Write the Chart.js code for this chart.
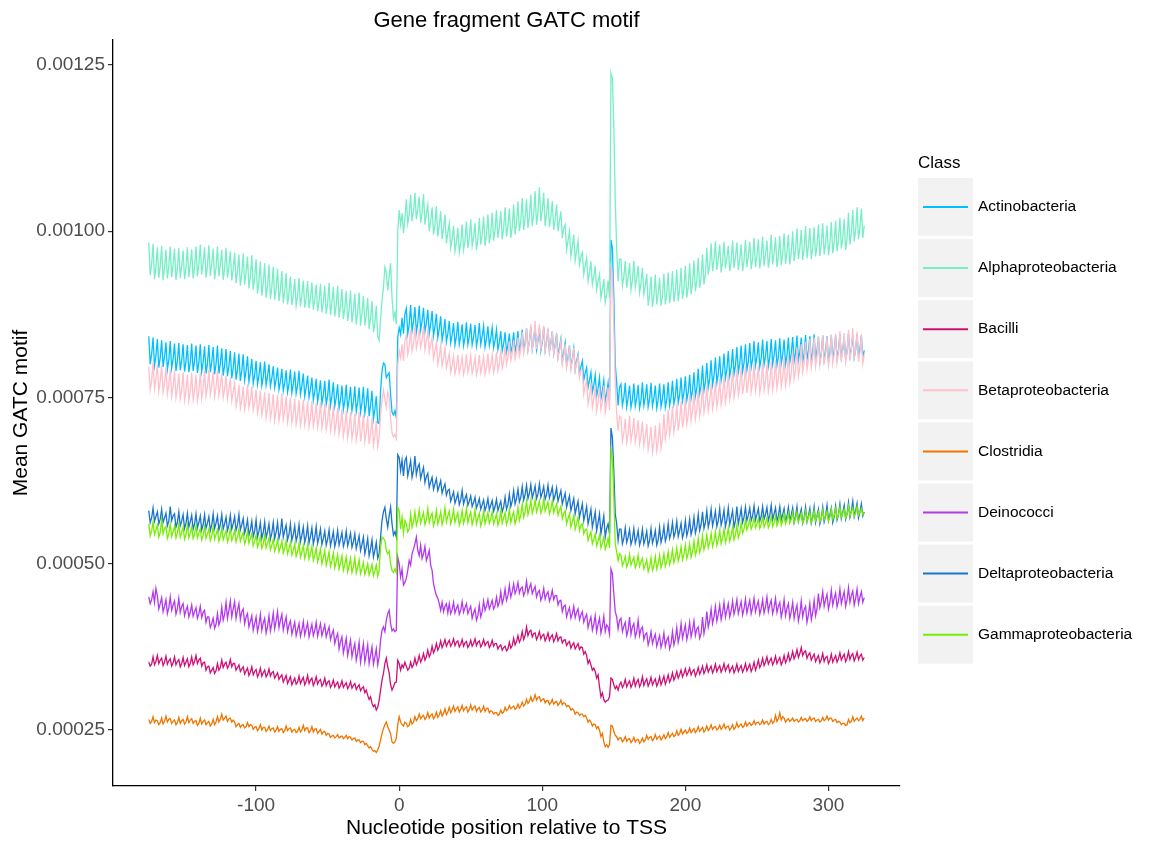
<!DOCTYPE html>
<html>
<head>
<meta charset="utf-8">
<title>Gene fragment GATC motif</title>
<script src="https://cdn.jsdelivr.net/npm/chart.js@4.4.1/dist/chart.umd.min.js"></script>
<style>
  html, body { margin: 0; padding: 0; background: #fff; }
  #wrap { width: 1150px; height: 842px; }
</style>
</head>
<body>
<div id="wrap"><canvas id="chart" width="1150" height="842"></canvas></div>
<script>
// positions run from -175 to 325, one value per nucleotide
const START_POS = -175;
const END_POS = 325;
const X_TICKS = [-100, 0, 100, 200, 300];
const Y_TICKS = [0.00025, 0.0005, 0.00075, 0.001, 0.00125];
const Y_MIN = 0.0001658;
const Y_MAX = 0.0012876;
const VALUE_UNIT = 1e-6; // series below are stored in millionths

const CLASSES = ['Actinobacteria', 'Alphaproteobacteria', 'Bacilli', 'Betaproteobacteria',
                 'Clostridia', 'Deinococci', 'Deltaproteobacteria', 'Gammaproteobacteria'];
const CLASS_COLOURS = ['#00BFFF', '#76EEC6', '#CD1076', '#FFC0CB',
                       '#EE7600', '#B23AEE', '#1874CD', '#76EE00'];

const ACTINO = [
  842,800,815, 840,798,812, 838,795,810, 836,796,811, 833,792,806, 835,794,808, 831,790,805, 832,791,806, 830,789,804, 829,788,803,
  831,790,805, 828,787,802, 830,789,803, 827,786,801, 829,788,803, 826,785,800, 828,786,801, 824,783,798, 823,782,797, 820,779,794,
  818,777,792, 816,775,790, 815,776,790, 812,774,788, 808,771,784, 805,770,783, 803,768,781, 804,769,782, 800,767,779, 797,765,777,
  795,762,774, 793,760,772, 791,758,770, 792,757,770, 789,756,768, 790,755,768, 786,752,765, 783,750,762, 780,746,759, 778,744,757,
  776,741,754, 775,740,752, 777,738,752, 773,737,750, 770,734,747, 768,732,745, 769,733,746, 766,730,743, 767,729,743, 765,728,742,
  766,726,740, 764,722,738, 760,718,732, 752,712,711, 760,790,802, 800,780,784, 787,755,728, 724,730,720, 841,855,845, 870,846,875,
  884,846,860, 889,850,864, 886,848,862, 888,851,865, 885,849,862, 882,846,860, 880,843,857, 876,840,853, 872,836,849, 868,834,846,
  865,832,844, 862,829,842, 864,830,843, 860,828,840, 863,830,842, 861,829,841, 859,827,839, 862,830,842, 858,826,838, 857,828,839,
  855,825,836, 852,822,833, 850,820,831, 848,818,829, 846,817,828, 848,819,830, 850,820,831, 852,821,833, 854,822,834, 856,823,836,
  857,822,835, 855,820,833, 856,821,834, 853,819,832, 850,816,829, 846,812,825, 838,804,817, 832,798,811, 828,796,808, 824,792,805,
  815,784,796, 805,776,787, 795,765,776, 788,758,769, 784,752,764, 780,748,760, 776,745,756, 772,745,987, 975,900,800, 772,738,765,
  770,738,750, 772,736,749, 768,735,747, 771,737,749, 769,734,746, 773,738,750, 770,736,748, 772,737,749, 768,734,746, 771,736,748,
  770,735,747, 773,738,750, 775,740,752, 778,742,754, 780,745,757, 782,746,758, 784,748,760, 788,752,764, 793,756,768, 798,760,773,
  802,765,778, 806,769,782, 810,772,785, 812,775,788, 816,779,792, 820,782,795, 823,785,798, 826,788,801, 828,789,802, 830,791,804,
  832,795,808, 835,798,811, 833,796,809, 837,799,812, 835,797,810, 838,800,813, 836,798,811, 839,801,814, 837,800,813, 840,803,816,
  841,804,817, 843,806,819, 840,803,816, 844,807,820, 842,805,818, 845,807,821, 841,804,817, 843,806,819, 842,805,818, 844,808,821,
  843,809,821, 845,810,823, 842,808,820, 846,812,824, 844,810,822, 845,811,823, 843,809,821
];

const ALPHA = [
  983,934,950, 981,928,946, 976,930,948, 978,926,944, 972,929,947, 977,931,949, 974,927,944, 975,930,948, 971,928,945, 976,931,950,
  973,929,946, 977,932,950, 980,935,953, 976,930,948, 979,933,951, 974,928,945, 977,932,949, 972,927,944, 975,930,947, 970,926,943,
  968,922,940, 965,918,936, 967,920,938, 962,914,932, 964,912,930, 958,906,925, 955,903,922, 952,900,918, 950,898,916, 947,897,914,
  944,895,912, 940,892,910, 937,890,907, 932,889,904, 928,888,902, 930,887,903, 926,885,900, 925,884,899, 923,882,897, 920,880,895,
  921,878,894, 918,876,892, 922,874,893, 916,872,889, 918,870,888, 913,868,885, 910,865,882, 911,863,881, 906,860,878, 908,858,877,
  903,858,874, 900,853,870, 895,848,862, 888,842,836, 868,896,915, 946,938,911, 932,952,900, 869,878,860, 1000,1032,1010, 1027,997,1020,
  1048,1012,1026, 1055,1015,1030, 1058,1018,1033, 1052,1013,1028, 1056,1010,1027, 1040,1000,1015, 1036,995,1010, 1038,992,1008, 1030,988,1004, 1025,982,998,
  1012,975,988, 1008,970,984, 1005,968,982, 1010,972,986, 1015,975,990, 1018,978,992, 1012,972,988, 1020,980,995, 1022,978,994, 1025,982,998,
  1028,986,1002, 1032,990,1006, 1030,988,1004, 1036,992,1008, 1034,990,1006, 1040,995,1012, 1045,1000,1016, 1050,1002,1020, 1048,1005,1022, 1055,1008,1025,
  1060,1010,1028, 1066,1015,1032, 1058,1008,1026, 1050,1006,1022, 1045,1002,1018, 1040,1000,1015, 1030,990,1005, 1010,972,986, 1000,962,976, 995,956,970,
  985,950,962, 968,935,948, 960,925,938, 955,920,932, 948,912,925, 935,900,912, 928,893,905, 926,900,1238, 1230,1156,1047, 975,925,958,
  958,918,932, 955,915,930, 952,912,926, 956,916,930, 948,908,922, 945,905,918, 936,888,905, 932,886,902, 935,890,906, 930,888,903,
  936,890,907, 938,892,908, 940,894,910, 942,895,912, 945,898,915, 948,900,917, 952,905,922, 956,910,926, 960,915,930, 965,920,935,
  975,935,950, 982,940,956, 985,942,958, 980,938,954, 984,944,960, 978,940,955, 986,945,961, 983,942,958, 980,940,956, 987,946,962,
  984,943,959, 990,946,963, 988,944,961, 992,948,965, 986,945,962, 995,950,967, 991,946,963, 993,949,966, 997,951,968, 995,950,967,
  1000,955,972, 1004,958,975, 1002,957,973, 1008,960,978, 1005,958,975, 1006,962,979, 1010,963,980, 1012,965,982, 1009,964,981, 1014,967,984,
  1016,970,987, 1020,974,990, 1018,972,989, 1028,980,998, 1032,985,1002, 1036,988,1006, 1034,990,1008
];

const BACILLI = [
  352,346,349, 360,348,353, 362,350,355, 358,347,352, 361,349,354, 357,346,351, 360,348,353, 356,345,350, 359,347,352, 357,345,350,
  360,348,353, 362,350,355, 358,346,351, 352,340,345, 346,336,340, 344,335,339, 350,340,344, 355,344,349, 352,343,347, 356,345,350,
  350,340,344, 348,338,342, 345,334,339, 343,332,337, 345,333,338, 341,330,335, 343,331,336, 340,330,334, 342,331,336, 338,328,332,
  336,326,330, 333,322,327, 332,320,325, 330,318,323, 328,319,322, 331,320,325, 329,318,323, 332,320,325, 328,317,322, 330,319,324,
  326,316,320, 328,317,322, 324,314,318, 325,315,319, 322,313,317, 324,314,318, 321,312,316, 323,313,317, 320,311,315, 318,309,313,
  315,306,310, 302,296,300, 290,285,288, 280,284,295, 310,325,335, 350,358,345, 336,318,310, 315,321,322, 355,350,340, 348,344,352,
  346,340,343, 352,344,348, 358,348,353, 362,352,357, 365,355,360, 370,360,365, 376,366,371, 380,370,375, 384,374,379, 386,376,381,
  385,376,380, 387,377,382, 384,375,379, 386,376,381, 383,374,378, 385,376,380, 387,377,382, 384,375,379, 386,377,381, 383,374,378,
  385,376,380, 380,372,376, 378,370,374, 376,369,372, 382,373,377, 388,378,383, 392,382,387, 398,386,392, 405,392,398, 400,390,395,
  396,386,391, 398,387,392, 394,384,389, 396,385,390, 393,383,388, 395,384,389, 390,381,385, 386,377,381, 383,373,378, 381,372,376,
  380,371,375, 374,364,368, 362,350,355, 348,340,343, 338,328,333, 315,300,306, 296,292,294, 295,300,328, 326,318,312, 316,310,318,
  322,314,318, 326,315,320, 324,314,319, 328,316,322, 326,315,320, 330,317,323, 327,316,321, 329,318,323, 327,316,321, 330,318,324,
  331,319,325, 333,322,327, 336,325,330, 338,328,333, 340,330,335, 342,332,337, 343,333,338, 341,331,336, 344,334,339, 346,335,340,
  348,337,342, 346,336,341, 349,338,343, 347,337,342, 350,339,344, 348,337,342, 346,336,341, 349,338,343, 347,337,342, 350,339,344,
  349,338,343, 352,340,346, 355,344,349, 358,347,352, 360,349,354, 358,348,353, 361,350,355, 359,348,353, 362,351,356, 365,354,359,
  368,357,362, 371,359,365, 374,362,367, 369,358,363, 366,355,360, 364,353,358, 362,351,356, 365,353,359, 361,350,355, 364,352,357,
  362,352,357, 366,355,360, 364,353,358, 368,356,362, 365,354,359, 367,356,361, 364,355,359
];

const BETA = [
  796,762,775, 803,764,778, 800,760,774, 798,758,772, 795,755,769, 792,752,766, 790,750,764, 786,748,761, 788,746,760, 785,745,759,
  787,747,761, 784,745,759, 788,749,763, 790,752,766, 792,754,768, 789,751,765, 791,753,767, 786,750,763, 783,748,761, 780,745,758,
  772,737,749, 769,734,746, 767,732,744, 770,735,747, 766,731,743, 762,727,739, 760,724,737, 758,720,734, 757,718,732, 755,716,730,
  754,715,729, 756,717,731, 752,713,727, 750,712,725, 748,710,723, 746,708,721, 747,709,722, 744,706,719, 745,707,720, 742,705,718,
  743,704,718, 740,702,715, 741,700,714, 738,698,712, 735,695,709, 733,692,706, 730,690,704, 728,688,702, 726,686,700, 728,684,699,
  724,684,698, 722,680,695, 720,678,692, 715,676,690, 725,745,761, 748,735,758, 752,718,697, 691,694,688, 800,821,810, 830,805,835,
  845,815,826, 852,820,831, 856,824,835, 854,826,836, 858,822,835, 850,818,830, 840,808,820, 832,800,812, 828,798,809, 825,795,806,
  816,788,798, 812,786,796, 814,787,797, 811,785,795, 815,788,798, 813,786,796, 810,784,794, 814,787,797, 812,785,795, 816,789,799,
  815,788,798, 818,790,800, 822,794,804, 828,800,810, 834,806,816, 836,808,818, 840,812,822, 848,816,828, 855,820,833, 860,822,836,
  865,823,838, 860,822,836, 858,820,834, 855,818,831, 850,815,827, 842,808,820, 835,800,813, 830,795,807, 828,792,805, 825,790,802,
  812,780,791, 790,755,768, 776,740,752, 772,735,748, 768,730,744, 765,732,743, 768,728,742, 765,731,946, 935,860,770, 725,700,722,
  720,684,697, 718,682,695, 722,685,698, 719,683,696, 716,680,693, 714,678,691, 710,672,686, 706,668,682, 708,670,684, 712,674,688,
  725,688,701, 732,694,708, 737,698,712, 740,700,715, 745,705,720, 750,710,724, 754,715,729, 758,718,732, 762,722,736, 766,728,741,
  768,730,744, 771,733,747, 774,736,750, 778,740,754, 782,743,757, 786,747,761, 790,750,764, 793,753,767, 796,755,770, 798,757,772,
  799,758,772, 801,760,774, 798,757,771, 802,761,775, 800,759,773, 804,762,776, 806,764,778, 808,766,780, 810,768,782, 814,772,786,
  820,778,792, 825,782,796, 830,788,802, 834,792,806, 838,795,809, 840,797,811, 842,799,813, 844,800,815, 841,798,812, 845,801,815,
  846,802,816, 850,805,820, 847,803,817, 852,806,821, 855,808,823, 849,804,818, 845,801,815
];

const CLOSTRIDIA = [
  266,260,263, 270,261,265, 264,258,261, 268,259,263, 271,262,266, 267,260,263, 265,258,261, 269,260,264, 266,259,262, 270,261,265,
  267,260,263, 264,257,260, 268,259,263, 265,258,261, 263,256,259, 266,258,262, 270,262,266, 274,265,268, 271,263,267, 268,262,265,
  262,255,258, 260,254,257, 258,253,255, 261,255,258, 257,251,254, 255,249,252, 258,250,254, 254,248,251, 256,249,252, 253,247,250,
  255,248,251, 252,246,249, 256,249,252, 253,247,250, 251,246,248, 254,247,250, 257,249,253, 253,246,249, 255,247,251, 252,245,248,
  251,244,247, 248,242,245, 244,239,241, 242,238,240, 243,238,240, 241,237,239, 242,237,240, 239,235,237, 238,233,235, 235,231,233,
  233,228,230, 226,223,225, 221,218,219, 216,220,226, 235,245,252, 258,262,255, 250,244,232, 230,232,238, 258,270,262, 258,256,262,
  260,255,257, 266,259,262, 270,264,267, 274,267,270, 272,266,269, 276,268,272, 274,267,270, 277,269,273, 279,271,275, 282,273,277,
  284,276,280, 286,278,282, 285,277,281, 287,279,283, 285,277,281, 288,280,284, 286,278,282, 284,277,280, 286,278,282, 283,276,279,
  278,274,276, 276,272,274, 280,275,277, 284,279,281, 287,282,284, 286,281,283, 289,283,286, 292,286,289, 296,290,293, 300,293,296,
  303,295,299, 300,293,296, 297,291,294, 294,288,291, 296,289,292, 293,287,290, 295,288,291, 290,285,287, 285,280,282, 280,274,277,
  276,272,274, 274,270,272, 268,262,265, 262,256,259, 258,252,255, 250,240,245, 232,225,228, 224,228,257, 256,248,242, 240,235,238,
  238,232,235, 240,233,236, 237,231,234, 239,232,235, 236,230,233, 238,232,235, 242,236,239, 240,234,237, 243,236,239, 241,235,238,
  243,237,240, 246,239,242, 245,240,242, 249,242,245, 251,244,247, 250,245,247, 253,246,249, 252,246,249, 255,248,251, 254,247,250,
  256,249,252, 258,251,254, 255,250,252, 257,251,254, 259,252,255, 256,250,253, 258,251,254, 261,254,257, 259,254,256, 262,256,259,
  261,257,259, 264,258,261, 262,258,260, 265,259,262, 263,258,260, 266,260,263, 272,263,267, 276,265,270, 268,262,265, 267,263,265,
  268,263,265, 266,262,264, 269,264,266, 267,263,265, 270,264,267, 268,263,265, 266,262,264, 269,264,266, 271,265,268, 268,263,265,
  266,261,263, 262,258,260, 260,257,258, 266,261,263, 270,263,266, 268,264,266, 271,264,268
];

const DEINO = [
  450,440,446, 458,442,463, 452,432,440, 449,428,436, 446,425,434, 450,430,438, 444,424,432, 448,427,436, 440,422,430, 436,420,427,
  438,421,428, 434,418,425, 436,419,427, 430,412,420, 420,404,410, 418,403,409, 425,408,415, 435,415,424, 442,418,430, 444,420,432,
  443,418,430, 440,416,428, 432,410,420, 425,405,413, 422,400,410, 420,398,408, 424,400,411, 418,396,406, 422,399,410, 426,402,414,
  428,404,415, 424,400,411, 420,398,408, 414,394,403, 412,392,401, 410,391,400, 413,393,402, 411,390,400, 409,392,400, 412,391,401,
  410,392,400, 408,390,398, 405,386,394, 400,380,389, 395,372,383, 390,366,377, 388,362,374, 385,360,371, 380,355,366, 382,352,366,
  380,352,364, 378,350,362, 375,349,360, 372,348,360, 385,400,405, 398,415,425, 430,410,399, 402,398,400, 510,500,480, 492,468,472,
  478,490,505, 498,515,522, 530,540,520, 512,528,508, 515,526,505, 512,520,498, 490,470,460, 452,448,440, 430,442,428, 436,440,426,
  440,425,431, 442,426,433, 438,424,430, 443,427,434, 440,425,431, 436,418,426, 432,415,422, 438,420,428, 444,430,436, 446,432,438,
  445,432,437, 450,436,442, 458,440,448, 462,445,452, 468,450,458, 470,455,461, 472,456,463, 465,452,458, 474,456,464, 470,455,461,
  466,450,457, 460,445,451, 463,447,454, 458,444,450, 460,446,452, 452,438,444, 445,428,436, 438,420,428, 434,418,425, 436,419,427,
  432,416,423, 428,412,419, 424,404,413, 420,400,409, 422,398,409, 418,396,406, 421,398,408, 405,394,492, 485,455,428, 420,402,415,
  418,398,406, 412,392,400, 420,394,405, 410,390,398, 415,392,402, 405,386,394, 396,378,386, 398,380,388, 394,376,384, 392,374,382,
  396,376,385, 390,372,380, 398,378,387, 404,382,392, 410,388,398, 408,386,396, 412,390,400, 414,392,402, 405,388,395, 420,395,406,
  428,405,415, 432,410,420, 436,414,424, 438,416,426, 442,420,430, 440,420,429, 444,424,433, 446,425,434, 443,423,432, 447,426,436,
  445,425,434, 448,428,437, 444,424,433, 446,426,435, 450,428,438, 445,425,434, 448,427,436, 442,420,430, 446,422,433, 440,418,428,
  442,418,429, 438,414,425, 444,420,431, 436,412,423, 440,416,427, 445,422,432, 455,434,443, 458,436,446, 454,432,442, 460,438,448,
  456,435,444, 462,440,450, 458,436,446, 464,442,452, 459,438,448, 462,440,450, 458,442,449
];

const DELTA = [
  580,562,569, 584,564,571, 578,560,567, 582,562,569, 576,557,564, 586,565,572, 575,555,562, 578,557,564, 574,553,561, 576,555,563,
  573,552,560, 575,554,562, 572,551,559, 574,553,561, 571,550,558, 575,553,561, 572,551,559, 574,552,560, 570,550,558, 573,552,560,
  571,550,558, 574,551,559, 568,546,554, 566,543,551, 564,541,549, 566,540,549, 562,538,547, 563,539,548, 560,537,546, 562,538,547,
  562,538,547, 568,540,550, 558,536,544, 560,535,544, 557,534,543, 559,533,543, 555,532,541, 557,531,541, 554,530,540, 556,531,540,
  552,529,538, 549,528,537, 551,527,537, 548,526,535, 550,528,537, 547,526,534, 549,527,536, 546,525,533, 545,523,532, 542,520,529,
  540,515,525, 538,512,522, 536,510,520, 532,508,515, 540,565,578, 585,568,555, 572,585,560, 543,548,540, 664,660,640, 656,632,655,
  660,632,643, 655,630,640, 662,634,645, 650,628,637, 645,622,631, 636,615,623, 630,612,620, 628,610,617, 625,606,614, 620,603,610,
  612,594,601, 608,591,598, 606,589,596, 610,590,598, 604,588,594, 602,586,592, 600,584,590, 598,582,589, 596,580,587, 598,581,588,
  595,579,586, 597,580,587, 594,578,585, 600,582,589, 605,586,594, 610,590,598, 612,593,600, 616,596,604, 618,598,606, 619,599,607,
  617,598,605, 620,600,607, 616,597,604, 618,599,606, 615,596,603, 614,594,602, 610,590,598, 606,585,594, 602,580,589, 598,575,585,
  594,570,580, 590,565,575, 586,560,570, 582,555,566, 578,550,562, 575,545,558, 572,540,553, 560,545,704, 690,640,575, 560,535,552,
  552,530,538, 554,532,540, 551,529,537, 553,531,539, 550,528,536, 552,530,538, 549,527,535, 553,531,539, 550,528,536, 555,532,541,
  556,534,542, 560,538,546, 562,540,548, 564,541,550, 561,539,547, 565,542,551, 567,544,553, 570,546,555, 574,550,559, 578,553,562,
  580,555,565, 582,557,567, 579,556,565, 583,558,568, 581,556,566, 584,559,569, 580,555,565, 586,560,570, 583,562,570, 585,565,573,
  584,565,572, 587,566,574, 583,564,571, 586,567,574, 585,565,573, 588,566,575, 584,564,572, 586,566,574, 583,563,571, 585,565,573,
  584,562,571, 586,564,573, 582,561,569, 585,563,572, 583,561,570, 586,562,572, 582,560,569, 585,563,572, 588,565,574, 584,562,571,
  587,566,574, 590,568,577, 588,567,575, 592,570,579, 594,571,580, 591,569,578, 590,572,578
];

const GAMMA = [
  560,542,549, 563,544,551, 558,540,547, 566,545,553, 556,538,545, 560,541,548, 557,539,546, 559,540,547, 555,537,544, 558,539,546,
  555,538,544, 557,539,546, 553,536,543, 556,538,545, 552,535,542, 555,537,544, 551,534,541, 554,536,543, 550,533,540, 553,535,542,
  550,533,540, 552,534,541, 547,530,537, 549,531,538, 545,527,534, 543,525,532, 541,523,530, 543,524,531, 539,521,528, 537,519,526,
  536,518,525, 534,516,523, 535,515,523, 532,513,520, 530,511,518, 531,510,518, 528,508,516, 529,507,515, 526,505,513, 524,503,511,
  522,500,509, 520,498,507, 518,496,505, 516,494,503, 514,492,501, 512,490,499, 510,488,497, 508,487,495, 509,486,495, 506,485,493,
  502,484,491, 500,483,490, 499,482,489, 498,481,490, 525,540,538, 535,520,515, 519,500,490, 487,492,486, 585,580,552, 570,546,565,
  560,548,553, 575,555,563, 578,558,566, 581,561,569, 577,559,566, 583,562,571, 576,557,565, 580,560,568, 578,559,567, 584,563,572,
  579,560,568, 582,562,570, 577,558,566, 580,561,569, 583,562,571, 578,559,567, 581,560,569, 576,557,565, 579,560,568, 577,561,567,
  578,560,567, 575,558,565, 580,561,569, 577,559,566, 582,562,571, 578,560,568, 585,565,573, 590,570,578, 594,574,582, 595,576,584,
  596,578,585, 594,576,583, 597,579,586, 593,575,582, 595,577,584, 590,573,580, 586,568,576, 580,560,568, 575,555,563, 572,552,560,
  570,550,558, 560,545,551, 552,535,542, 548,530,537, 545,527,534, 543,524,531, 540,522,529, 538,524,671, 660,600,530, 518,505,515,
  513,497,503, 511,495,501, 514,498,504, 510,494,500, 513,496,503, 508,492,498, 506,488,495, 509,490,497, 511,492,500, 513,494,502,
  515,496,504, 518,499,507, 521,502,510, 524,504,512, 526,506,514, 528,508,516, 530,510,518, 534,513,521, 538,517,525, 542,521,529,
  544,524,532, 546,526,534, 548,528,536, 550,530,538, 552,532,540, 554,534,542, 555,536,544, 558,539,546, 562,546,552, 566,551,557,
  567,552,558, 569,554,560, 568,553,559, 570,555,561, 569,554,560, 571,556,562, 572,557,563, 574,558,565, 575,560,566, 576,561,567,
  577,562,568, 578,563,569, 576,561,567, 579,564,570, 577,562,568, 580,565,571, 578,563,569, 581,566,572, 579,564,570, 582,567,573,
  583,568,574, 585,570,576, 582,569,574, 587,572,578, 584,571,576, 586,573,578, 583,574,577
];

const SERIES = [ACTINO, ALPHA, BACILLI, BETA, CLOSTRIDIA, DEINO, DELTA, GAMMA];

const positions = [];
for (let p = START_POS; p <= END_POS; p++) positions.push(p);

SERIES.forEach((s, i) => {
    if (s.length !== positions.length) console.warn(CLASSES[i], 'has', s.length, 'values');
});

// ggplot-style legend on the right, drawn after the chart
const classLegend = {
    id: 'classLegend',
    afterDraw(chart) {
        const ctx = chart.ctx;
        const left = chart.chartArea.right + 18;
        const keyW = 55, keyH = 58, step = 61.1, top = 178;
        ctx.save();
        ctx.textBaseline = 'middle';
        ctx.textAlign = 'left';
        ctx.fillStyle = '#000';
        ctx.font = "17px 'Liberation Sans', Arial, sans-serif";
        ctx.fillText('Class', left, 163);
        ctx.font = "15.5px 'Liberation Sans', Arial, sans-serif";
        chart.data.datasets.forEach((ds, i) => {
            const y = top + i * step;
            ctx.fillStyle = '#f2f2f2';
            ctx.fillRect(left, y, keyW, keyH);
            ctx.strokeStyle = ds.borderColor;
            ctx.lineWidth = 2;
            ctx.beginPath();
            ctx.moveTo(left + 5, y + keyH / 2);
            ctx.lineTo(left + keyW - 5, y + keyH / 2);
            ctx.stroke();
            ctx.fillStyle = '#000';
            ctx.fillText(ds.label, left + keyW + 5, y + keyH / 2);
        });
        ctx.restore();
    }
};

Chart.defaults.font.family = "'Liberation Sans', Arial, Helvetica, sans-serif";

const datasets = CLASSES.map((name, i) => ({
    label: name,
    data: SERIES[i].map((v, j) => ({ x: positions[j], y: v * VALUE_UNIT })),
    borderColor: CLASS_COLOURS[i],
    backgroundColor: CLASS_COLOURS[i],
    borderWidth: 1.3,
    pointRadius: 0,
    tension: 0,
    fill: false,
    order: CLASSES.length - 1 - i, // later classes drawn on top, like ggplot
}));

new Chart(document.getElementById('chart'), {
    type: 'line',
    data: { datasets },
    options: {
        responsive: false,
        animation: false,
        events: [],
        layout: { padding: { left: 0, right: 250, top: 0, bottom: 0 } },
        plugins: {
            legend: { display: false },
            tooltip: { enabled: false },
            title: {
                display: true,
                text: 'Gene fragment GATC motif',
                color: '#000',
                fullSize: false,
                font: { size: 22, weight: 'normal' },
                padding: { top: 8, bottom: 5.6 },
            },
        },
        scales: {
            x: {
                type: 'linear',
                min: -200,
                max: 350,
                afterBuildTicks: scale => { scale.ticks = X_TICKS.map(value => ({ value })); },
                afterFit: scale => { scale.height = 56; },
                ticks: {
                    color: '#4d4d4d',
                    font: { size: 19 },
                    padding: 3,
                    maxRotation: 0,
                    callback: value => String(value),
                },
                grid: { drawOnChartArea: false, drawTicks: true, tickLength: 5, color: '#333', lineWidth: 1.2 },
                border: { display: true, color: '#000', width: 1.3 },
                title: {
                    display: true,
                    text: 'Nucleotide position relative to TSS',
                    color: '#000',
                    font: { size: 21 },
                    padding: { top: 0, bottom: 1.4 },
                },
            },
            y: {
                type: 'linear',
                min: Y_MIN,
                max: Y_MAX,
                afterBuildTicks: scale => { scale.ticks = Y_TICKS.map(value => ({ value })); },
                afterFit: scale => { scale.width = 113; },
                ticks: {
                    color: '#4d4d4d',
                    font: { size: 19 },
                    padding: 3,
                    callback: value => value.toFixed(5),
                },
                grid: { drawOnChartArea: false, drawTicks: true, tickLength: 5, color: '#333', lineWidth: 1.2 },
                border: { display: true, color: '#000', width: 1.3 },
                title: {
                    display: true,
                    text: 'Mean GATC motif',
                    color: '#000',
                    font: { size: 21 },
                    padding: { top: 9, bottom: 0 },
                },
            },
        },
    },
    plugins: [classLegend],
});
</script>
</body>
</html>
